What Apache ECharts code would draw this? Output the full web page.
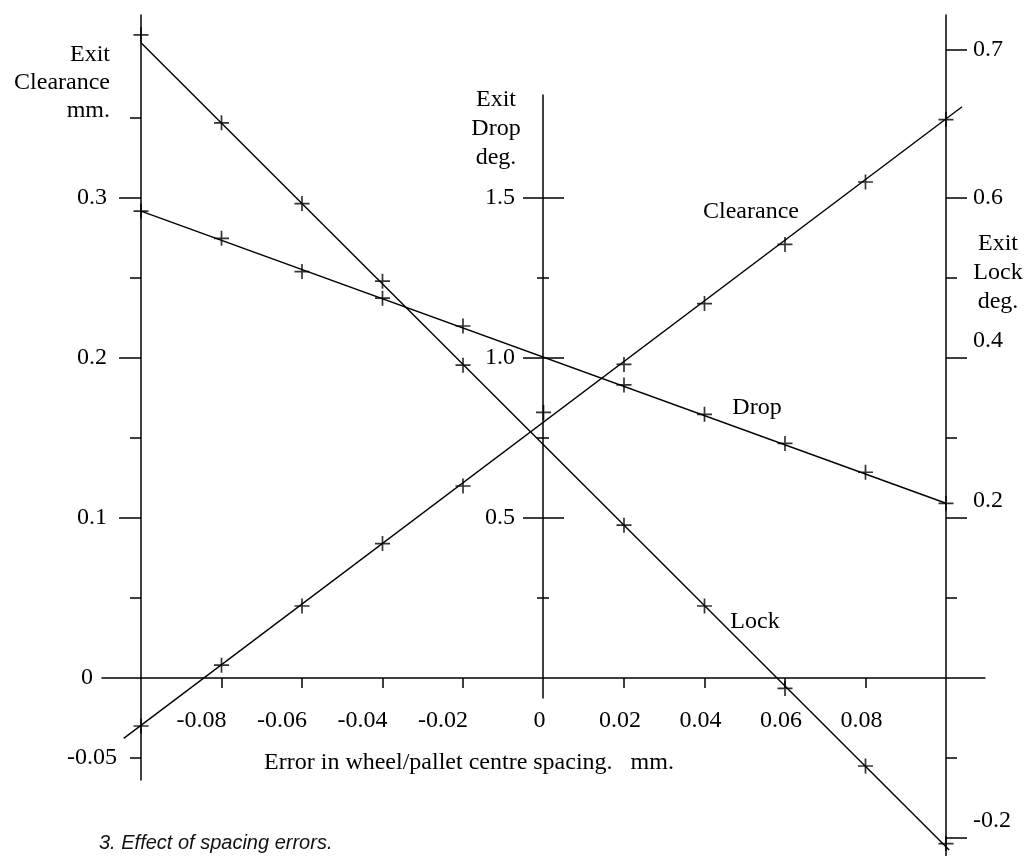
<!DOCTYPE html>
<html>
<head>
<meta charset="utf-8">
<script src="https://cdn.jsdelivr.net/npm/echarts@6/dist/echarts.min.js"></script>
<style>
html,body{margin:0;padding:0;background:#fff;}
#chart{width:1028px;height:856px;}
</style>
</head>
<body>
<div id="chart"></div>
<script>
// ---------------- data ----------------
const clearanceX      = [-0.1, -0.08, -0.06, -0.04, -0.02, 0, 0.02, 0.04, 0.06, 0.08, 0.1];
const clearanceValues = [-0.030, 0.008, 0.045, 0.084, 0.120, 0.166, 0.196, 0.234, 0.271, 0.310, 0.349];
const dropX           = [-0.1, -0.08, -0.06, -0.04, -0.02, 0.02, 0.04, 0.06, 0.08, 0.1];
const dropValues      = [1.459, 1.374, 1.270, 1.187, 1.100, 0.916, 0.824, 0.733, 0.643, 0.546];
const lockX           = [-0.1, -0.08, -0.06, -0.04, -0.02, 0.02, 0.04, 0.06, 0.08, 0.1];
const lockValues      = [0.804, 0.694, 0.593, 0.496, 0.391, 0.191, 0.090, -0.013, -0.110, -0.207];

// straight fitted lines (end points)
const clearanceFitX = [-0.1043, 0.1040];
const clearanceFitY = [-0.0377, 0.357];
const dropFitX      = [-0.1, 0.1];
const dropFitY      = [1.459, 0.546];
const lockFitX      = [-0.1, 0.1008];
const lockFitY      = [0.794, -0.215];

// ticks and tick labels
const xTickValues   = [-0.08, -0.06, -0.04, -0.02, 0.02, 0.04, 0.06, 0.08];
const xLabelValues  = [-0.08, -0.06, -0.04, -0.02, 0, 0.02, 0.04, 0.06, 0.08];
const xLabels       = ['-0.08', '-0.06', '-0.04', '-0.02', '0', '0.02', '0.04', '0.06', '0.08'];

const clrMajorValues = [0.1, 0.2, 0.3];
const clrMajorLabels = ['0.1', '0.2', '0.3'];
const clrMinorValues = [-0.05, 0.05, 0.15, 0.25, 0.35];
const clrMinorLabelValues = [-0.05];
const clrMinorLabels = ['-0.05'];
const clrZeroLabelValues = [0];
const clrZeroLabels = ['0'];

const dropMajorValues = [0.5, 1.0, 1.5];
const dropMajorLabels = ['0.5', '1.0', '1.5'];
const dropMinorValues = [0.25, 0.75, 1.25];

// (the original figure draws its "0.7" mark well above the 0.1-per-step spacing)
const lockMajorValues = [-0.2, 0.2, 0.4, 0.6, 0.785];
const lockMajorLabels = ['-0.2', '0.2', '0.4', '0.6', '0.7'];
const lockMinorValues = [-0.1, 0.1, 0.3, 0.5];

const clearanceTitle = 'Exit\nClearance\nmm.';
const dropTitle      = 'Exit\nDrop\ndeg.';
const lockTitle      = 'Exit\nLock\ndeg.';
const xTitle         = 'Error in wheel/pallet centre spacing.   mm.';
const caption        = '3. Effect of spacing errors.';
const seriesNames    = ['Clearance', 'Drop', 'Lock'];

// ---------------- layout / style ----------------
const SERIF = '"Liberation Serif", "Times New Roman", serif';
const SANS  = '"Liberation Sans", Arial, sans-serif';
const FS = 24;
const INK = '#000';
const AXW = 1.5;

const Y_ZERO = 678;                       // pixel row of value 0 on every y scale
const PX = {clr: 1600, drop: 320, lock: 800};
const X_EXT = 0.10969;                    // x extent of the 102..985 px span
function rng(pxPerUnit, topPx, bottomPx) {
  return {min: (Y_ZERO - bottomPx) / pxPerUnit, max: (Y_ZERO - topPx) / pxPerUnit};
}
function near(a, b) { return Math.abs(a - b) < 1e-9; }
function lookup(vals, labels, v) {
  for (let i = 0; i < vals.length; i++) if (near(vals[i], v)) return labels[i];
  return '';
}
function pairs(xs, ys) { return xs.map((x, i) => [x, ys[i]]); }

const labelFont = {color: INK, fontFamily: SERIF, fontSize: FS};

function hiddenX(gi, min, max) {
  return {type: 'value', gridIndex: gi, min: min, max: max, show: false, splitLine: {show: false}};
}
function hiddenY(gi, position, r) {
  return {type: 'value', gridIndex: gi, position: position, min: r.min, max: r.max, show: false, splitLine: {show: false}};
}
function yAx(gi, position, r, o) {
  return {
    type: 'value', gridIndex: gi, position: position, min: r.min, max: r.max,
    splitLine: {show: false},
    axisLine: {show: !!o.line, onZero: false, lineStyle: {color: INK, width: AXW}},
    axisTick: o.ticks ? {show: true, customValues: o.ticks, length: o.tickLen, inside: !!o.inside,
                         lineStyle: {color: INK, width: AXW}} : {show: false},
    axisLabel: o.labels ? Object.assign({show: true, customValues: o.labels, margin: o.margin,
                         formatter: o.formatter}, labelFont, o.rich ? {rich: o.rich} : {}) : {show: false}
  };
}

// data grid spans the whole drawing (x 102..985, y 15..856)
const rDc = rng(PX.clr, 15, 856), rDd = rng(PX.drop, 15, 856), rDl = rng(PX.lock, 15, 856);
// left axis (y 15..780), right axis (y 15..856), middle axis (y 95..698)
const rLc = rng(PX.clr, 15, 780);
const rRl = rng(PX.lock, 15, 856);
const rMd = rng(PX.drop, 95, 698);

const option = {
  animation: false,
  backgroundColor: '#fff',
  grid: [
    {left: 102, top: 15, width: 883, height: 841, containLabel: false},   // 0 data
    {left: 141, top: 15, width: 805, height: 765, containLabel: false},   // 1 left axis
    {left: 141, top: 15, width: 805, height: 841, containLabel: false},   // 2 right axis
    {left: 543, top: 95, width: 10,  height: 603, containLabel: false},   // 3 middle axis
    {left: 102, top: 15, width: 883, height: 663, containLabel: false}    // 4 x axis
  ],
  xAxis: [
    hiddenX(0, -X_EXT, X_EXT),
    hiddenX(1, -0.1, 0.1),
    hiddenX(2, -0.1, 0.1),
    hiddenX(3, -0.1, 0.1),
    {
      type: 'value', gridIndex: 4, position: 'bottom', min: -X_EXT, max: X_EXT,
      splitLine: {show: false},
      axisLine: {show: true, onZero: false, lineStyle: {color: INK, width: AXW}},
      axisTick: {show: false},
      axisLabel: Object.assign({
        show: true, customValues: xLabelValues, margin: 31,
        formatter: function (v) {
          const t = lookup(xLabelValues, xLabels, v);
          return v < 0 ? '{neg|' + t + '}' : '{pos|' + t + '}';
        },
        rich: {
          neg: Object.assign({padding: [0, 40, 0, 0]}, labelFont),
          pos: Object.assign({padding: [0, 8, 0, 0]}, labelFont)
        }
      }, labelFont)
    },
    {
      type: 'value', gridIndex: 4, position: 'bottom', offset: 5, min: -X_EXT, max: X_EXT,
      splitLine: {show: false},
      axisLine: {show: false},
      axisTick: {show: true, customValues: xTickValues, length: 10, lineStyle: {color: INK, width: AXW}},
      axisLabel: {show: false}
    }
  ],
  yAxis: [
    // 0..2: data scales (hidden)
    hiddenY(0, 'left', rDc),
    hiddenY(0, 'left', rDd),
    hiddenY(0, 'right', rDl),
    // 3..5: left (clearance) axis
    yAx(1, 'left', rLc, {line: true, ticks: clrMajorValues, tickLen: 22, labels: clrMajorValues, margin: 34,
        formatter: v => lookup(clrMajorValues, clrMajorLabels, v)}),
    yAx(1, 'left', rLc, {ticks: clrMinorValues, tickLen: 11, labels: clrMinorLabelValues, margin: 24,
        formatter: v => lookup(clrMinorLabelValues, clrMinorLabels, v)}),
    yAx(1, 'left', rLc, {labels: clrZeroLabelValues, margin: 48,
        formatter: v => lookup(clrZeroLabelValues, clrZeroLabels, v)}),
    // 6..7: right (lock) axis
    yAx(2, 'right', rRl, {line: true, ticks: lockMajorValues, tickLen: 21, labels: lockMajorValues, margin: 27,
        formatter: function (v) {
          const t = lookup(lockMajorValues, lockMajorLabels, v);
          return (v < 0.5) ? '{up|' + t + '}' : '{n|' + t + '}';
        },
        rich: {up: Object.assign({padding: [0, 0, 34, 0]}, labelFont), n: Object.assign({}, labelFont)}}),
    yAx(2, 'right', rRl, {ticks: lockMinorValues, tickLen: 11}),
    // 8..11: middle (drop) axis, ticks cross both sides
    yAx(3, 'left', rMd, {line: true, ticks: dropMajorValues, tickLen: 20, labels: dropMajorValues, margin: 28,
        formatter: v => lookup(dropMajorValues, dropMajorLabels, v)}),
    yAx(3, 'left', rMd, {ticks: dropMinorValues, tickLen: 6}),
    yAx(3, 'left', rMd, {ticks: dropMajorValues, tickLen: 21, inside: true}),
    yAx(3, 'left', rMd, {ticks: dropMinorValues, tickLen: 6, inside: true}),
    // 12: x-axis grid helper
    hiddenY(4, 'left', {min: 0, max: 1})
  ],
  series: [
    {type: 'line', name: 'Clearance fit', xAxisIndex: 0, yAxisIndex: 0, data: pairs(clearanceFitX, clearanceFitY),
     symbol: 'none', clip: false, silent: true, lineStyle: {color: INK, width: 1.4}},
    {type: 'line', name: 'Drop fit', xAxisIndex: 0, yAxisIndex: 1, data: pairs(dropFitX, dropFitY),
     symbol: 'none', clip: false, silent: true, lineStyle: {color: INK, width: 1.4}},
    {type: 'line', name: 'Lock fit', xAxisIndex: 0, yAxisIndex: 2, data: pairs(lockFitX, lockFitY),
     symbol: 'none', clip: false, silent: true, lineStyle: {color: INK, width: 1.4}}
  ].concat([
    [clearanceX, clearanceValues, 0],
    [dropX, dropValues, 1],
    [lockX, lockValues, 2]
  ].map(function (s, i) {
    return {
      type: 'scatter', name: seriesNames[i], xAxisIndex: 0, yAxisIndex: s[2], data: pairs(s[0], s[1]),
      symbol: 'path://M7,0L7,14M0,7L14,7', symbolSize: 15, clip: false, silent: true,
      itemStyle: {color: 'none', borderColor: INK, borderWidth: 1.7}
    };
  })),
  graphic: [
    {type: 'text', x: 110, y: 41, silent: true,
     style: {text: clearanceTitle, align: 'right', verticalAlign: 'top', fontFamily: SERIF, fontSize: FS, lineHeight: 28, fill: INK}},
    {type: 'text', x: 496, y: 85, silent: true,
     style: {text: dropTitle, align: 'center', verticalAlign: 'top', fontFamily: SERIF, fontSize: FS, lineHeight: 29, fill: INK}},
    {type: 'text', x: 998, y: 229, silent: true,
     style: {text: lockTitle, align: 'center', verticalAlign: 'top', fontFamily: SERIF, fontSize: FS, lineHeight: 29, fill: INK}},
    {type: 'text', x: 751, y: 212, silent: true,
     style: {text: seriesNames[0], align: 'center', verticalAlign: 'middle', fontFamily: SERIF, fontSize: FS, fill: INK}},
    {type: 'text', x: 757, y: 408, silent: true,
     style: {text: seriesNames[1], align: 'center', verticalAlign: 'middle', fontFamily: SERIF, fontSize: FS, fill: INK}},
    {type: 'text', x: 755, y: 622, silent: true,
     style: {text: seriesNames[2], align: 'center', verticalAlign: 'middle', fontFamily: SERIF, fontSize: FS, fill: INK}},
    {type: 'text', x: 469, y: 763, silent: true,
     style: {text: xTitle, align: 'center', verticalAlign: 'middle', fontFamily: SERIF, fontSize: FS, fill: INK}},
    {type: 'text', x: 99, y: 843, silent: true,
     style: {text: caption, align: 'left', verticalAlign: 'middle', fontFamily: SANS, fontStyle: 'italic', fontSize: 20, fill: '#111'}}
  ]
};

const chart = echarts.init(document.getElementById('chart'), null, {renderer: 'canvas'});
chart.setOption(option);
</script>
</body>
</html>
